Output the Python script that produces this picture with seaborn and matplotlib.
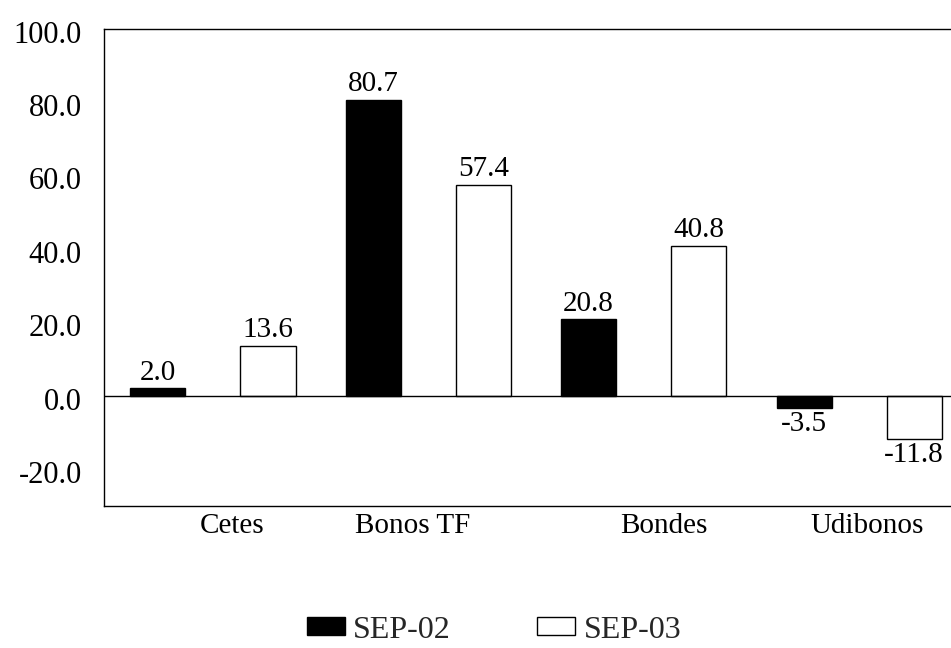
import matplotlib
matplotlib.use("Agg")
import matplotlib.pyplot as plt
import matplotlib.transforms as mtransforms
import seaborn as sns
import pandas as pd

categories = ["Cetes", "Bonos TF", "Bondes", "Udibonos"]
series_names = ["SEP-02", "SEP-03"]
sep02 = [2.0, 80.7, 20.8, -3.5]
sep03 = [13.6, 57.4, 40.8, -11.8]
yticks = [-20, 0, 20, 40, 60, 80, 100]

sns.set_style("white")
plt.rcParams["font.family"] = ["Liberation Serif", "DejaVu Serif"]
plt.rcParams["axes.unicode_minus"] = False

df = pd.DataFrame({
    "cat": categories * 2,
    "val": sep02 + sep03,
    "series": [series_names[0]] * 4 + [series_names[1]] * 4,
})

fig = plt.figure(figsize=(9.51, 6.48), dpi=100)
W, H = 951, 648
ax = fig.add_axes([104 / W, 1 - 505.7 / H, (W - 104) / W, (505.7 - 28.7) / H])

sns.barplot(data=df, x="cat", y="val", hue="series", order=categories,
            hue_order=series_names, palette=["black", "white"],
            edgecolor="black", linewidth=1.0, width=1.022, gap=0.5,
            saturation=1, ax=ax, errorbar=None)

ax.set_xlim(-0.506, 3.427)
ax.set_ylim(-30, 99.5)
ax.set_yticks(yticks)
ax.set_yticklabels([f"{v:.1f}" for v in yticks])
ax.set_xlabel("")
ax.set_ylabel("")
ax.axhline(0, color="black", lw=1.0, zorder=3)

for s in ["left", "top", "bottom"]:
    ax.spines[s].set_color("black")
    ax.spines[s].set_linewidth(1.0)
ax.spines["right"].set_visible(False)

ax.tick_params(axis="y", length=0, pad=16, labelsize=22, colors="black")
ax.tick_params(axis="x", length=0, pad=5, labelsize=21, colors="black")

# small label offsets (pixels) as in the reference layout
x_shifts = [19, -16, 20, 8]
for lab, dx in zip(ax.get_xticklabels(), x_shifts):
    lab.set_transform(lab.get_transform() +
                      mtransforms.ScaledTranslation(dx / 100, 0, fig.dpi_scale_trans))
for lab in ax.get_yticklabels():
    lab.set_transform(lab.get_transform() +
                      mtransforms.ScaledTranslation(0, -3 / 100, fig.dpi_scale_trans))

for cont in ax.containers:
    ax.bar_label(cont, fmt="%.1f", padding=2, fontsize=21, color="black")

handles, labels = ax.get_legend_handles_labels()
if ax.get_legend() is not None:
    ax.get_legend().remove()
fig.legend(handles, labels, loc="center", bbox_to_anchor=(494 / W, 1 - 630 / H),
           ncol=2, frameon=False, fontsize=23, handlelength=1.2,
           handleheight=0.5, handletextpad=0.25, columnspacing=2.7)

fig.savefig("out.png", dpi=100)
